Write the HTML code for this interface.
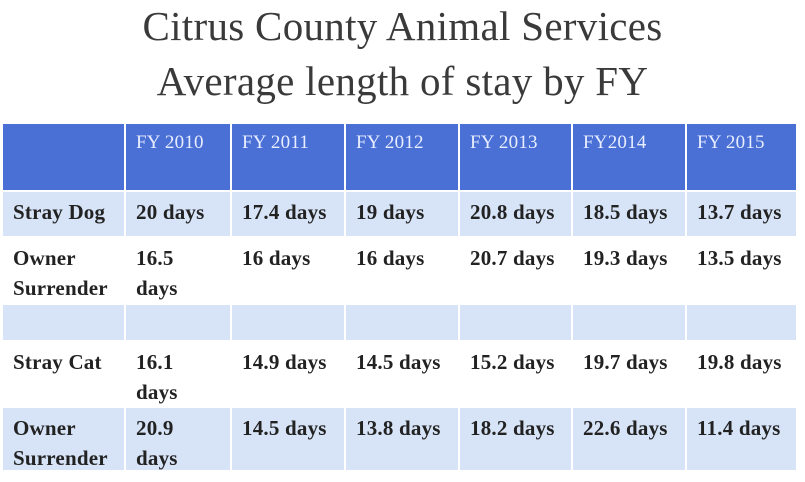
<!DOCTYPE html>
<html><head><style>
body{margin:0;width:805px;height:482px;background:#fff;overflow:hidden;position:relative;font-family:"Liberation Serif",serif}
.t{position:absolute;left:0;width:805px;text-align:center;color:#3a3a3a;font-size:41px;letter-spacing:0.3px}
.c{position:absolute;box-sizing:border-box;padding:5px 0 0 10px;font-weight:bold;font-size:21px;color:#222;line-height:30px;letter-spacing:0.2px}
.h{background:#4a70d6;color:#e8eeff;font-weight:normal;font-size:19px;padding-top:4px}
.l{background:#d7e4f7}
</style></head><body>
<div class="t" style="top:2px">Citrus County Animal Services</div>
<div class="t" style="top:57px">Average length of stay by FY</div>
<div id="g"></div>
<script>
var xs=[3,126,232,346,460,573,687,798];
var rows=[[124,192,'h',['','FY 2010','FY 2011','FY 2012','FY 2013','FY2014','FY 2015']],
[192,238,'l',['Stray Dog','20 days','17.4 days','19 days','20.8 days','18.5 days','13.7 days']],
[238,305,'',['Owner<br>Surrender','16.5<br>days','16 days','16 days','20.7 days','19.3 days','13.5 days']],
[305,342,'l',['','','','','','','']],
[342,408,'',['Stray Cat','16.1<br>days','14.9 days','14.5 days','15.2 days','19.7 days','19.8 days']],
[408,472,'l',['Owner<br>Surrender','20.9<br>days','14.5 days','13.8 days','18.2 days','22.6 days','11.4 days']]];
var h='';
rows.forEach(function(r){for(var i=0;i<7;i++){h+='<div class="c '+r[2]+'" style="left:'+xs[i]+'px;top:'+r[0]+'px;width:'+(xs[i+1]-xs[i]-2)+'px;height:'+(r[1]-r[0]-2)+'px;white-space:nowrap">'+r[3][i]+'</div>';}});
document.getElementById('g').innerHTML=h;
</script>
</body></html>
